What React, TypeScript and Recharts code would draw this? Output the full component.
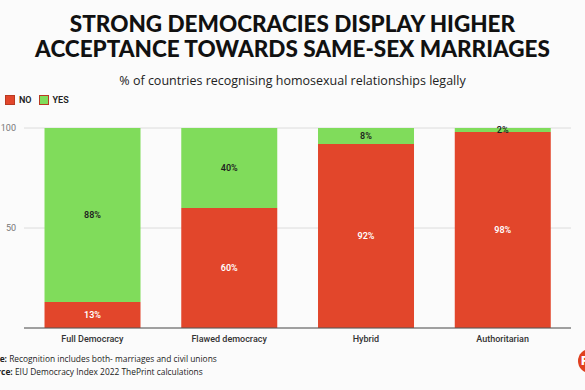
import { BarChart, Bar, XAxis, YAxis, CartesianGrid, LabelList } from 'recharts'

const categories = ['Full Democracy', 'Flawed democracy', 'Hybrid', 'Authoritarian']
const noValues = [13, 60, 92, 98]
const yesValues = [88, 40, 8, 2]
const yTicks = [50, 100]

const SERIES = [
  { key: 'no', label: 'NO', color: '#e2462b', text: '#ffffff' },
  { key: 'yes', label: 'YES', color: '#80dc5b', text: '#1f1f1f' },
]

const data = categories.map((name, i) => ({ name, no: noValues[i], yes: yesValues[i] }))

const pct = (v: number) => `${v}%`

export default function App() {
  return (
    <div
      style={{
        position: 'fixed',
        top: 0,
        left: 0,
        width: 585,
        height: 390,
        overflow: 'hidden',
        background: '#fbfbfb',
        fontFamily: 'Roboto, "Open Sans", sans-serif',
      }}
    >
      <div
        style={{
          position: 'absolute',
          top: 11,
          width: '100%',
          textAlign: 'center',
          fontFamily: 'Lato, "Open Sans", sans-serif',
          fontWeight: 900,
          fontSize: 22.5,
          lineHeight: '25px',
          color: '#111',
        }}
      >
        <div>STRONG DEMOCRACIES DISPLAY HIGHER</div>
        <div>ACCEPTANCE TOWARDS SAME-SEX MARRIAGES</div>
      </div>
      <div
        style={{
          position: 'absolute',
          top: 72,
          width: '100%',
          textAlign: 'center',
          fontFamily: '"Open Sans", sans-serif',
          fontSize: 12.5,
          color: '#222',
        }}
      >
        % of countries recognising homosexual relationships legally
      </div>

      <div style={{ position: 'absolute', top: 95, left: 5, display: 'flex', alignItems: 'center', fontSize: 9, fontWeight: 600, color: '#222' }}>
        {SERIES.map((s) => (
          <div key={s.key} style={{ display: 'flex', alignItems: 'center', marginRight: 7 }}>
            <span style={{ width: 10, height: 10, background: s.color, border: '0.5px solid #b83a22', marginRight: 4, boxSizing: 'border-box' }} />
            {s.label}
          </div>
        ))}
      </div>

      <div style={{ position: 'absolute', top: 110, left: 0 }}>
        <BarChart
          width={585}
          height={240}
          data={data}
          margin={{ top: 18, right: 14, left: 0, bottom: 0 }}
          barCategoryGap="15%"
        >
          <CartesianGrid horizontal vertical={false} stroke="#dcdcdc" />
          <XAxis
            dataKey="name"
            tickLine={false}
            axisLine={{ stroke: '#555', strokeWidth: 1 }}
            tick={{ fill: '#333', fontSize: 9, fontWeight: 500 }}
            height={22}
          />
          <YAxis
            domain={[0, 100]}
            ticks={yTicks}
            allowDataOverflow
            tickLine={false}
            axisLine={false}
            tick={{ fill: '#777', fontSize: 9 }}
            width={24}
          />
          {SERIES.map((s) => (
            <Bar key={s.key} dataKey={s.key} stackId="a" fill={s.color} isAnimationActive={false}>
              <LabelList
                dataKey={s.key}
                position="center"
                formatter={pct}
                style={{ fill: s.text, fontSize: 9, fontWeight: 600 }}
              />
            </Bar>
          ))}
        </BarChart>
      </div>

      <div style={{ position: 'absolute', top: 352, left: -16, fontFamily: '"Open Sans", sans-serif', fontSize: 8.4, lineHeight: '13px', color: '#222' }}>
        <div>
          <b>Note:</b> Recognition includes both- marriages and civil unions
        </div>
        <div style={{ marginLeft: -2 }}>
          <b>Source:</b> EIU Democracy Index 2022 ThePrint calculations
        </div>
      </div>

      <div
        style={{
          position: 'absolute',
          left: 578,
          top: 349,
          width: 24,
          height: 24,
          borderRadius: '50%',
          background: '#e0401f',
          color: '#fff',
          fontWeight: 900,
          fontSize: 13,
          lineHeight: '24px',
          paddingLeft: 3,
          boxSizing: 'border-box',
        }}
      >
        P
      </div>
    </div>
  )
}
